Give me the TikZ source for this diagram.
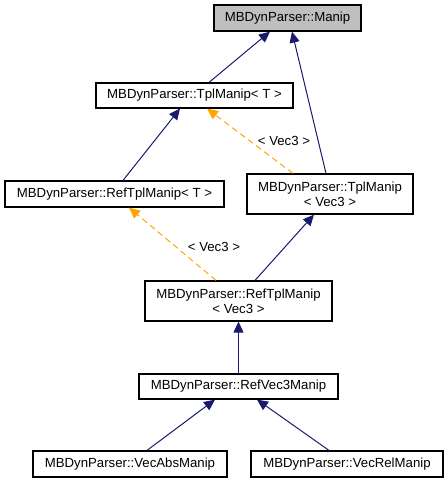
\documentclass[tikz,border=0pt]{standalone}
\usepackage{fontspec}
\setmainfont{Liberation Sans}
\usetikzlibrary{arrows.meta}
\definecolor{navyline}{HTML}{191970}
\definecolor{orangeline}{HTML}{FFA500}
\begin{document}
\begin{tikzpicture}[x=1pt,y=-1pt,
  cls/.style={draw=black,line width=1.2pt,fill=white,inner sep=0pt,align=center,
    font=\fontsize{13.2}{15}\selectfont},
  inh/.style={draw=navyline,line width=1pt,-{Triangle[length=11pt,width=10pt,fill=navyline]}},
  tmpl/.style={draw=orangeline,line width=1pt,dash pattern=on 6pt off 4pt,-{Triangle[length=11pt,width=10pt,fill=orangeline]}},
  lbl/.style={font=\fontsize{13.2}{15}\selectfont,inner sep=1pt}]
\useasboundingbox (0,0) rectangle (447,483);
\node[cls,fill={rgb,255:red,191;green,191;blue,191},minimum width=147pt,minimum height=26pt] (manip) at (287.5,18) {MBDynParser::Manip};
\node[cls,minimum width=197pt,minimum height=25pt] (tplT) at (194.5,95.5) {MBDynParser::TplManip< T >};
\node[cls,minimum width=219pt,minimum height=26pt] (refT) at (114.5,194) {MBDynParser::RefTplManip< T >};
\node[cls,minimum width=166pt,minimum height=40pt] (tplV) at (330,194) {MBDynParser::TplManip\\< Vec3 >};
\node[cls,minimum width=187pt,minimum height=40pt] (refV) at (238.5,301) {MBDynParser::RefTplManip\\< Vec3 >};
\node[cls,minimum width=199pt,minimum height=25pt] (rv3) at (238.5,386.5) {MBDynParser::RefVec3Manip};
\node[cls,minimum width=194pt,minimum height=26pt] (abs) at (130,464) {MBDynParser::VecAbsManip};
\node[cls,minimum width=192pt,minimum height=26pt] (rel) at (347,464) {MBDynParser::VecRelManip};

\draw[inh] ([xshift=14.5pt]tplT.north) -- ([xshift=-17.5pt]manip.south);
\draw[inh] ([xshift=-4pt]tplV.north) -- ([xshift=4.5pt]manip.south);
\draw[inh] ([xshift=8.5pt]refT.north) -- ([xshift=-14.5pt]tplT.south);
\draw[tmpl] ([xshift=-37pt]tplV.north) -- ([xshift=12.5pt]tplT.south);
\draw[inh] ([xshift=16.5pt]refV.north) -- ([xshift=-16pt]tplV.south);
\draw[tmpl] ([xshift=-22.5pt]refV.north) -- ([xshift=14.5pt]refT.south);
\draw[inh] (rv3.north) -- (refV.south);
\draw[inh] ([xshift=17pt]abs.north) -- ([xshift=-23.5pt]rv3.south);
\draw[inh] ([xshift=-18pt]rel.north) -- ([xshift=18.5pt]rv3.south);

\node[lbl] (l1) at (284,141) {< Vec3 >};
\node[lbl] (l2) at (214,247) {< Vec3 >};
\end{tikzpicture}
\end{document}
